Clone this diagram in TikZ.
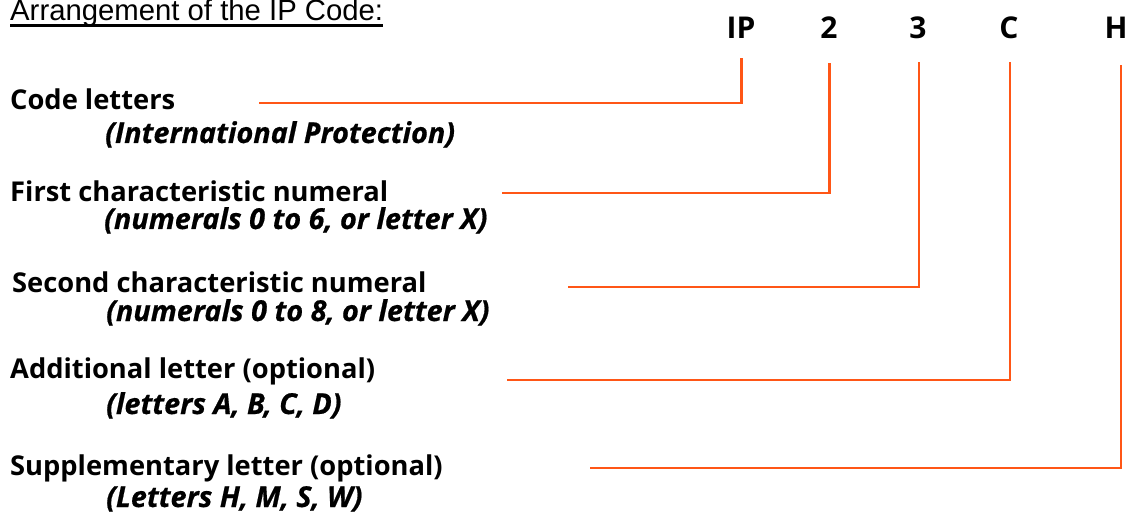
\documentclass[tikz,border=0pt]{standalone}
\usepackage{fontspec}
\setmainfont{Liberation Sans}
\newfontfamily\labfont{Open Sans}
\newfontfamily\subfont{Open Sans}[FakeBold=0.6]
\definecolor{ipor}{RGB}{255,86,22}
\begin{document}
\begin{tikzpicture}[x=1pt,y=-1pt,
  lbl/.style={anchor=base west,inner sep=0pt,font=\labfont\bfseries\fontsize{27.3}{30}\selectfont},
  sub/.style={anchor=base west,inner sep=0pt,font=\subfont\bfseries\itshape\fontsize{28.8}{30}\selectfont},
  hdr/.style={anchor=base,inner sep=0pt,font=\labfont\bfseries\fontsize{30}{32}\selectfont},
  conn/.style={draw=ipor,line width=2.6pt}]
\useasboundingbox (0,0) rectangle (1127,513);
% title
\node[anchor=base west,inner sep=0pt,font=\fontsize{29.3}{32}\selectfont] (title) at (10,21) {Arrangement of the IP Code:};
\draw[line width=2.5pt] ([yshift=-4.5pt]title.base west) -- ([yshift=-4.5pt]title.base east);
% header letters
\node[hdr] (hip) at (741,39) {IP};
\node[hdr] (h2) at (829,39) {2};
\node[hdr] (h3) at (918,39) {3};
\node[hdr] (hc) at (1009,39) {C};
\node[hdr] (hh) at (1116,39) {H};
% labels
\node[lbl] (l1) at (10,110) {Code letters};
\node[sub] (s1) at (105,143) {(International Protection)};
\node[lbl] (l2) at (10,202) {First characteristic numeral};
\node[sub] (s2) at (104,229) {(numerals 0 to 6, or letter X)};
\node[lbl] (l3) at (12,292) {Second characteristic numeral};
\node[sub] (s3) at (106,321) {(numerals 0 to 8, or letter X)};
\node[lbl] (l4) at (10,378) {Additional letter (optional)};
\node[sub] (s4) at (106,414) {(letters A, B, C, D)};
\node[lbl] (l5) at (10,475) {Supplementary letter (optional)};
\node[sub] (s5) at (106,507) {(Letters H, M, S, W)};
% connector ends
\coordinate (a1) at (259,103);  \coordinate (b1) at (741.7,58);
\coordinate (a2) at (502,193);  \coordinate (b2) at (829.7,63);
\coordinate (a3) at (568,287);  \coordinate (b3) at (919,62);
\coordinate (a4) at (507,380);  \coordinate (b4) at (1010,62);
\coordinate (a5) at (590,468);  \coordinate (b5) at (1121,65);
\draw[conn] (a1) -| (b1);
\draw[conn] (a2) -| (b2);
\draw[conn] (a3) -| (b3);
\draw[conn] (a4) -| (b4);
\draw[conn] (a5) -| (b5);
\end{tikzpicture}
\end{document}
